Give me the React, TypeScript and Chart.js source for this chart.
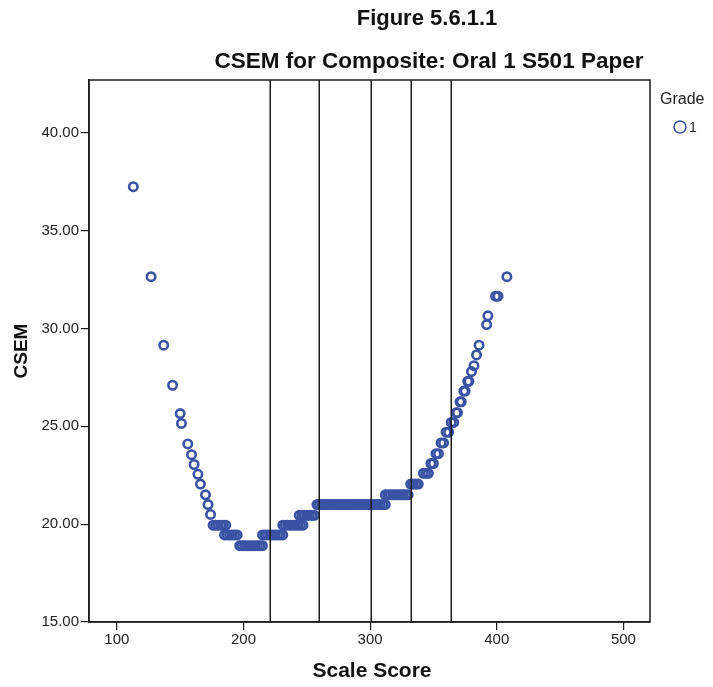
import React, { useEffect, useRef } from "react";
import { Chart, registerables } from "chart.js";

Chart.register(...registerables);

// Scale score of each plotted point
const scaleScores: number[] = [
  113, 127, 137, 144, 150, 151, 156, 159, 161, 164, 166, 170, 172, 174,
  176, 178, 180, 182, 184, 186,
  185, 187, 189, 191, 193, 195,
  197, 199, 201, 203, 205, 207, 209, 211, 213, 215,
  215, 217, 219, 221, 223, 225, 227, 229, 231,
  231, 233, 235, 237, 239, 241, 243, 245, 247,
  244, 246, 248, 250, 252, 254, 256,
  258, 260, 262, 264, 266, 268, 270, 272, 274, 276, 278, 280, 282, 284,
  286, 288, 290, 292, 294, 296, 298, 300, 302, 304, 306, 308, 310, 312,
  312, 314, 316, 318, 320, 322, 324, 326, 328, 330,
  332, 334, 336, 338,
  342, 344, 346,
  348, 350,
  352, 354,
  356, 358,
  360, 362,
  364, 366,
  368, 369,
  371, 372,
  374, 375,
  377, 378,
  380, 382,
  384, 386,
  392, 393, 399, 401, 408,
];

// CSEM of each plotted point
const csemValues: number[] = [
  37.25, 32.65, 29.15, 27.1, 25.65, 25.15, 24.1, 23.55, 23.05, 22.55, 22.05, 21.5, 21.0, 20.5,
  19.95, 19.95, 19.95, 19.95, 19.95, 19.95,
  19.45, 19.45, 19.45, 19.45, 19.45, 19.45,
  18.9, 18.9, 18.9, 18.9, 18.9, 18.9, 18.9, 18.9, 18.9, 18.9,
  19.45, 19.45, 19.45, 19.45, 19.45, 19.45, 19.45, 19.45, 19.45,
  19.95, 19.95, 19.95, 19.95, 19.95, 19.95, 19.95, 19.95, 19.95,
  20.45, 20.45, 20.45, 20.45, 20.45, 20.45, 20.45,
  21.0, 21.0, 21.0, 21.0, 21.0, 21.0, 21.0, 21.0, 21.0, 21.0, 21.0, 21.0, 21.0, 21.0,
  21.0, 21.0, 21.0, 21.0, 21.0, 21.0, 21.0, 21.0, 21.0, 21.0, 21.0, 21.0, 21.0, 21.0,
  21.5, 21.5, 21.5, 21.5, 21.5, 21.5, 21.5, 21.5, 21.5, 21.5,
  22.05, 22.05, 22.05, 22.05,
  22.6, 22.6, 22.6,
  23.1, 23.1,
  23.6, 23.6,
  24.15, 24.15,
  24.7, 24.7,
  25.2, 25.2,
  25.7, 25.7,
  26.25, 26.25,
  26.8, 26.8,
  27.3, 27.3,
  27.8, 28.1,
  28.65, 29.15,
  30.2, 30.65, 31.65, 31.65, 32.65,
];

// Vertical reference lines (scale-score cut points)
const cutScores: number[] = [221, 260, 301, 332, 364];

const figureLabel = "Figure 5.6.1.1";
const chartTitle = "CSEM for Composite: Oral 1 S501 Paper";
const xAxisTitle = "Scale Score";
const yAxisTitle = "CSEM";
const legendTitle = "Grade";
const seriesName = "1";

const POINT_COLOR = "rgb(58, 82, 164)";
const LINE_COLOR = "#1c1c1c";
const FONT = "'Liberation Sans', Arial, sans-serif";

export default function App() {
  const canvasRef = useRef<HTMLCanvasElement | null>(null);

  useEffect(() => {
    if (!canvasRef.current) return;

    const overlay = {
      id: "overlay",
      afterDatasetsDraw(chart: any) {
        const { ctx, chartArea, scales } = chart;
        const xs = scales.x;
        ctx.save();
        ctx.strokeStyle = LINE_COLOR;
        ctx.lineWidth = 1.5;
        for (const v of cutScores) {
          const px = Math.round(xs.getPixelForValue(v)) + 0.25;
          ctx.beginPath();
          ctx.moveTo(px, chartArea.top);
          ctx.lineTo(px, chartArea.bottom);
          ctx.stroke();
        }
        ctx.strokeRect(
          chartArea.left,
          chartArea.top,
          chartArea.right - chartArea.left,
          chartArea.bottom - chartArea.top
        );
        ctx.restore();
      },
      afterDraw(chart: any) {
        const { ctx, chartArea } = chart;
        ctx.save();
        ctx.fillStyle = "#111";
        ctx.textAlign = "center";
        ctx.textBaseline = "middle";
        ctx.font = `bold 22px ${FONT}`;
        ctx.fillText(figureLabel, 427, 19);
        ctx.font = `bold 22.5px ${FONT}`;
        ctx.fillText(chartTitle, 429, 62);

        ctx.font = `bold 21px ${FONT}`;
        ctx.fillText(xAxisTitle, 372, 671);
        ctx.save();
        ctx.translate(22, (chartArea.top + chartArea.bottom) / 2);
        ctx.rotate(-Math.PI / 2);
        ctx.font = `bold 19px ${FONT}`;
        ctx.fillText(yAxisTitle, 0, 0);
        ctx.restore();

        // legend
        ctx.fillStyle = "#222";
        ctx.textAlign = "left";
        ctx.font = `16px ${FONT}`;
        ctx.fillText(legendTitle, 660, 100);
        ctx.strokeStyle = POINT_COLOR;
        ctx.lineWidth = 1.6;
        ctx.beginPath();
        ctx.arc(680, 127, 6, 0, Math.PI * 2);
        ctx.stroke();
        ctx.font = `14px ${FONT}`;
        ctx.fillText(seriesName, 689, 128);
        ctx.restore();
      },
    };

    const chart = new Chart(canvasRef.current, {
      type: "scatter",
      data: {
        datasets: [
          {
            label: seriesName,
            data: scaleScores.map((x, i) => ({ x, y: csemValues[i] })),
            pointStyle: "circle",
            pointRadius: 4.2,
            pointBorderWidth: 2.6,
            borderColor: POINT_COLOR,
            backgroundColor: "rgba(0,0,0,0)",
          },
        ],
      },
      options: {
        animation: false,
        responsive: true,
        maintainAspectRatio: false,
        layout: { padding: { left: 0, top: 80, right: 63, bottom: 0 } },
        plugins: {
          legend: { display: false },
          title: { display: false },
          tooltip: { enabled: false },
        },
        scales: {
          x: {
            type: "linear",
            min: 78,
            max: 521,
            afterFit: (s: any) => {
              s.height = 65;
            },
            ticks: {
              stepSize: 100,
              includeBounds: false,
              color: "#222",
              font: { family: FONT, size: 15 },
              padding: 1,
              maxRotation: 0,
            },
            grid: {
              display: true,
              drawOnChartArea: false,
              drawTicks: true,
              tickLength: 8,
              color: LINE_COLOR,
              lineWidth: 1.2,
            },
            border: { display: true, color: LINE_COLOR, width: 1.5 },
          },
          y: {
            type: "linear",
            min: 15,
            max: 42.7,
            afterFit: (s: any) => {
              s.width = 89;
            },
            ticks: {
              stepSize: 5,
              includeBounds: false,
              color: "#222",
              font: { family: FONT, size: 15 },
              padding: 2,
              callback: (v: any) => Number(v).toFixed(2),
            },
            grid: {
              display: true,
              drawOnChartArea: false,
              drawTicks: true,
              tickLength: 8,
              color: LINE_COLOR,
              lineWidth: 1.2,
            },
            border: { display: true, color: LINE_COLOR, width: 1.5 },
          },
        },
      },
      plugins: [overlay],
    });

    return () => chart.destroy();
  }, []);

  return (
    <div
      style={{
        position: "fixed",
        left: 0,
        top: 0,
        width: 713,
        height: 687,
        background: "#fff",
      }}
    >
      <canvas ref={canvasRef} />
    </div>
  );
}
